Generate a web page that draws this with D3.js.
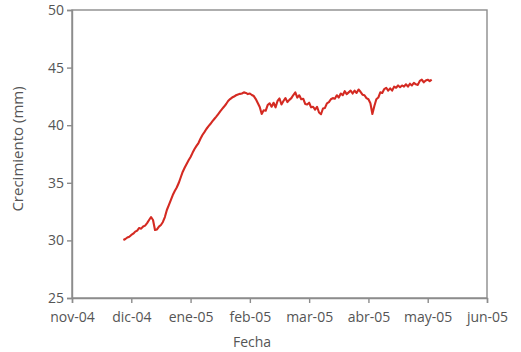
<!DOCTYPE html>
<html>
<head>
<meta charset="utf-8">
<script src="https://d3js.org/d3.v7.min.js"></script>
<style>
  body { margin: 0; background: #fff; }
  text { font-family: "Open Sans", sans-serif; fill: #555; }
</style>
</head>
<body>
<div id="chart"></div>
<script>
// month ticks (equal spacing, 30-day units from 1 nov 2004)
const monthLabels = ["nov-04", "dic-04", "ene-05", "feb-05", "mar-05", "abr-05", "may-05", "jun-05"];
const yTicks = [25, 30, 35, 40, 45, 50];

// first reading, days after 1 nov 2004
const startDay = 26;
// daily stem growth (mm)
const growth = [
  30.03, 30.12, 30.25, 30.32, 30.47, 30.58, 30.76, 30.85, 31.08, 31.02,
  31.2, 31.28, 31.5, 31.77, 32.03, 31.77, 30.9, 30.95, 31.2, 31.34,
  31.6, 32.03, 32.64, 33.07, 33.5, 33.94, 34.29, 34.59, 34.98, 35.46,
  35.94, 36.3, 36.63, 36.95, 37.24, 37.6, 37.93, 38.2, 38.45, 38.82,
  39.15, 39.4, 39.67, 39.9, 40.1, 40.33, 40.54, 40.75, 40.97, 41.2,
  41.41, 41.62, 41.84, 42.1, 42.27, 42.4, 42.49, 42.6, 42.67, 42.72,
  42.75, 42.85, 42.8, 42.7, 42.75, 42.62, 42.53, 42.27, 41.93, 41.58,
  40.97, 41.3, 41.25, 41.75, 41.9, 41.6, 41.95, 41.55, 42.1, 42.32,
  41.8, 42.1, 42.36, 42.0, 42.2, 42.35, 42.62, 42.85, 42.4, 42.6,
  42.25, 42.3, 41.85, 41.8, 41.95, 41.55, 41.6, 41.35, 41.6, 41.1,
  40.95, 41.45, 41.5, 41.9, 42.0, 42.25, 42.35, 42.3, 42.6, 42.4,
  42.75, 42.6, 42.95, 42.7, 42.85, 43.0, 42.75, 43.0, 42.8, 43.1,
  42.9, 42.65, 42.6, 42.35, 42.25, 41.9, 40.97, 41.67, 42.25, 42.4,
  42.85, 42.8, 43.14, 43.25, 43.0, 43.2, 43.0, 43.35, 43.25, 43.45,
  43.3, 43.45, 43.35, 43.55, 43.35, 43.6, 43.45, 43.68, 43.55, 43.5,
  43.85, 43.95, 43.72, 43.88, 43.95, 43.82, 43.95
];

const width = 521, height = 352;
const margin = { top: 10, right: 34, bottom: 54, left: 72 };

const svg = d3.select("#chart").append("svg")
  .attr("width", width)
  .attr("height", height);

const x = d3.scaleLinear()
  .domain([0, (monthLabels.length - 1) * 30])
  .range([margin.left, width - margin.right]);

const y = d3.scaleLinear()
  .domain([25, 50])
  .range([height - margin.bottom, margin.top]);

// frame
svg.append("rect")
  .attr("x", margin.left)
  .attr("y", margin.top)
  .attr("width", width - margin.right - margin.left)
  .attr("height", height - margin.bottom - margin.top)
  .attr("fill", "none")
  .attr("stroke", "#8c8c8c")
  .attr("stroke-width", 1.4);

const xAxis = svg.append("g")
  .attr("transform", `translate(0,${height - margin.bottom})`)
  .call(d3.axisBottom(x)
    .tickValues(monthLabels.map((d, i) => i * 30))
    .tickFormat((d, i) => monthLabels[i])
    .tickSize(5)
    .tickPadding(9));

const yAxis = svg.append("g")
  .attr("transform", `translate(${margin.left},0)`)
  .call(d3.axisLeft(y)
    .tickValues(yTicks)
    .tickSize(5)
    .tickPadding(3));

[xAxis, yAxis].forEach(g => {
  g.select(".domain").attr("stroke", "#8c8c8c").attr("stroke-width", 1.4);
  g.selectAll(".tick line").attr("stroke", "#8c8c8c").attr("stroke-width", 1.4);
  g.selectAll(".tick text")
    .style("font-family", "'Open Sans', sans-serif")
    .style("font-size", "14px")
    .attr("fill", "#555");
});

const line = d3.line()
  .x((d, i) => x(startDay + i))
  .y(d => y(d));

svg.append("path")
  .datum(growth)
  .attr("fill", "none")
  .attr("stroke", "#d42a22")
  .attr("stroke-width", 2.1)
  .attr("stroke-linejoin", "round")
  .attr("d", line);

svg.append("text")
  .attr("x", 252)
  .attr("y", height - 5)
  .attr("text-anchor", "middle")
  .style("font-size", "14px")
  .text("Fecha");

svg.append("text")
  .attr("transform", `translate(23,149) rotate(-90)`)
  .attr("text-anchor", "middle")
  .style("font-size", "15px")
  .text("Crecimiento (mm)");
</script>
</body>
</html>
